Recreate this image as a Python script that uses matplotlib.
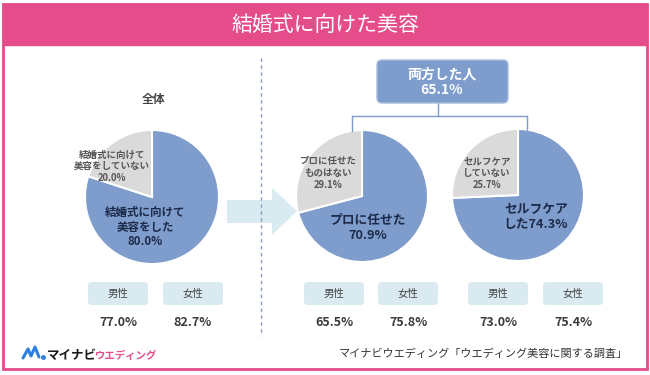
import matplotlib
matplotlib.use("Agg")
import matplotlib.pyplot as plt
from matplotlib.patches import FancyBboxPatch, Rectangle, Polygon
from matplotlib.lines import Line2D

plt.rcParams['font.family'] = ['Noto Sans CJK JP', 'DejaVu Sans']

# ---- data ----
title = "結婚式に向けた美容"
overall_labels = ["結婚式に向けて\n美容をした", "結婚式に向けて\n美容をしていない"]
overall_values = [80.0, 20.0]
pro_labels = ["プロに任せた", "プロに任せた\nものはない"]
pro_values = [70.9, 29.1]
self_labels = ["セルフケア\nした", "セルフケア\nしていない"]
self_values = [74.3, 25.7]
both_label = "両方した人"
both_value = 65.1
gender_labels = ["男性", "女性"]
overall_gender = [77.0, 82.7]
pro_gender = [65.5, 75.8]
self_gender = [73.0, 75.4]
section_label = "全体"
source = "マイナビウエディング「ウエディング美容に関する調査」"

# ---- style ----
PINK = "#e44c8a"
BLUE = "#7e9dcc"
GRAY = "#dadada"
NAVY = "#1e2b4a"
LIGHT = "#d9eaf1"
W, H = 650, 375

fig = plt.figure(figsize=(6.5, 3.75), dpi=100)
ax = fig.add_axes([0, 0, 1, 1])


def Y(y):
    return H - y


def draw_pie(cx, cy, r, values, labels, blue_pos, gray_pos, blue_fs, gray_fs, blue_fmt):
    ax.pie(values, colors=[BLUE, GRAY], startangle=90, counterclock=False,
           center=(cx, Y(cy)), radius=r,
           wedgeprops=dict(edgecolor="white", linewidth=1.5))
    ax.text(blue_pos[0], Y(blue_pos[1]), blue_fmt.format(labels[0], values[0]),
            ha="center", va="center", fontsize=blue_fs, fontweight="bold",
            color=NAVY, linespacing=1.15)
    ax.text(gray_pos[0], Y(gray_pos[1]), "{}\n{:.1f}%".format(labels[1], values[1]),
            ha="center", va="center", fontsize=gray_fs, fontweight="bold",
            color="#555555", linespacing=1.2)


# pies
draw_pie(152, 197, 67, overall_values, overall_labels, (145, 227), (112, 166),
         8.3, 6.8, "{}\n{:.1f}%")
draw_pie(362, 196, 66, pro_values, pro_labels, (368, 228), (328, 173),
         9.2, 6.8, "{}\n{:.1f}%")
draw_pie(518, 195, 66, self_values, self_labels, (536, 217), (487, 173),
         9.2, 6.8, "{}{:.1f}%")

ax.set_xlim(0, W)
ax.set_ylim(0, H)
ax.set_aspect("auto")
ax.axis("off")

# border and header
ax.add_patch(Rectangle((3, Y(369)), 644, 365, facecolor="none", edgecolor=PINK, lw=2, zorder=5))
ax.add_patch(Rectangle((3, Y(45)), 644, 41, facecolor=PINK, edgecolor=PINK, lw=1, zorder=5))
ax.text(325, Y(25), title, ha="center", va="center", fontsize=15, color="white", zorder=6)

# section label
ax.text(153, Y(100), section_label, ha="center", va="center", fontsize=8.5,
        fontweight="bold", color="#444444")

# arrow
ax.add_patch(Polygon([(227, Y(200)), (272, Y(200)), (272, Y(188)), (297, Y(211)),
                      (272, Y(235)), (272, Y(223)), (227, Y(223))],
                     closed=True, facecolor=LIGHT, edgecolor="none", zorder=1))

# dashed divider
ax.add_line(Line2D([261, 261], [Y(58), Y(336)], color="#8a9cc4", lw=1,
                   linestyle=(0, (2.5, 2.5)), zorder=3))

# top box and tree
ax.add_patch(FancyBboxPatch((377, Y(103)), 131, 43,
                            boxstyle="round,pad=0,rounding_size=5",
                            facecolor=BLUE, edgecolor="#a9bedf", lw=1, zorder=4))
ax.text(442, Y(82), "{}\n{:.1f}%".format(both_label, both_value), ha="center",
        va="center", fontsize=10, fontweight="bold", color="white",
        linespacing=1.1, zorder=5)
tree_kw = dict(color=BLUE, lw=1, zorder=3)
ax.add_line(Line2D([438, 438], [Y(103), Y(116)], **tree_kw))
ax.add_line(Line2D([352, 527], [Y(116), Y(116)], **tree_kw))
ax.add_line(Line2D([352, 352], [Y(116), Y(131)], **tree_kw))
ax.add_line(Line2D([527, 527], [Y(116), Y(131)], **tree_kw))

# gender boxes
box_centers = [(118, 193), (334, 408), (498, 573)]
gender_values = [overall_gender, pro_gender, self_gender]
for centers, vals in zip(box_centers, gender_values):
    for cx, lab, v in zip(centers, gender_labels, vals):
        ax.add_patch(FancyBboxPatch((cx - 30, Y(305)), 60, 23,
                                    boxstyle="round,pad=0,rounding_size=4",
                                    facecolor=LIGHT, edgecolor="none", zorder=2))
        ax.text(cx, Y(293.5), lab, ha="center", va="center", fontsize=7.5,
                color="#444444", zorder=3)
        ax.text(cx, Y(323), "{:.1f}%".format(v), ha="center", va="center",
                fontsize=9, fontweight="bold", color="#3a3a3a", zorder=3)

# logo
ax.add_line(Line2D([23, 28, 31, 35, 39], [Y(358), Y(349), Y(356), Y(347), Y(357)],
                   color="#2f7fe0", lw=2.2, solid_capstyle="round", zorder=3))
ax.plot([43], [Y(357)], marker="o", ms=2.5, color="#2f7fe0")
ax.text(47, Y(355), "マイナビ", ha="left", va="center", fontsize=9,
        fontweight="bold", color="#1a1a1a")
ax.text(95, Y(356), "ウエディング", ha="left", va="center", fontsize=7.5,
        fontweight="bold", color=PINK)

# source
ax.text(628, Y(354), source, ha="right", va="center", fontsize=8, color="#333333")

fig.savefig("out.png", dpi=100)
